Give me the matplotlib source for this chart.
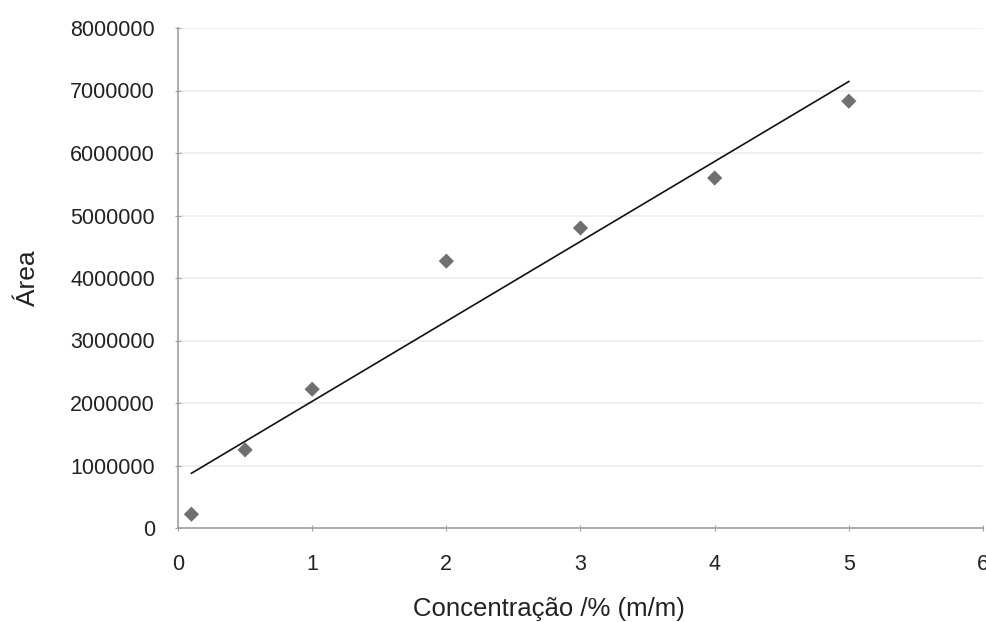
import matplotlib
matplotlib.use("Agg")
import matplotlib.pyplot as plt
import numpy as np

conc = [0.1, 0.5, 1, 2, 3, 4, 5]
area = [220000, 1250000, 2220000, 4270000, 4800000, 5600000, 6830000]
x_ticks = [0, 1, 2, 3, 4, 5, 6]
y_ticks = [0, 1000000, 2000000, 3000000, 4000000, 5000000, 6000000, 7000000, 8000000]

plt.rcParams['font.family'] = ['Liberation Sans', 'DejaVu Sans']

fig = plt.figure(figsize=(9.87, 6.22), dpi=100)
ax = fig.add_axes([178/987, 1 - 528/622, (983-178)/987, (528-28)/622])

ax.set_xlim(0, 6)
ax.set_ylim(0, 8000000)
ax.set_xticks(x_ticks)
ax.set_yticks(y_ticks)
ax.set_xticklabels([str(t) for t in x_ticks])
ax.set_yticklabels([str(t) for t in y_ticks])
ax.grid(axis='y', color='#ececec', linewidth=1.2)
ax.set_axisbelow(True)

for s in ['top', 'right']:
    ax.spines[s].set_visible(False)
for s in ['left', 'bottom']:
    ax.spines[s].set_color('#a0a0a0')
    ax.spines[s].set_linewidth(1.2)
ax.tick_params(axis='both', colors='#a0a0a0', labelcolor='#222222', labelsize=15.5, length=5, direction='inout')
ax.tick_params(axis='y', pad=14)
ax.tick_params(axis='x', pad=16)

ax.scatter(conc, area, marker='D', s=60, color='#707070', zorder=3, edgecolors='none')

slope, intercept = np.polyfit(conc, area, 1)
xs = np.array([conc[0], conc[-1]])
ax.plot(xs, slope * xs + intercept, color='#111111', linewidth=1.2, zorder=4)

ax.set_xlabel('Concentração /% (m/m)', fontsize=18.5, color='#222222')
ax.set_ylabel('Área', fontsize=19, color='#222222')
ax.xaxis.set_label_coords((549-178)/805, -(609-528)/500, transform=ax.transAxes)
ax.yaxis.set_label_coords(-(178-28)/805, 0.5, transform=ax.transAxes)
ax.xaxis.label.set_va('center')
ax.yaxis.label.set_va('center')

fig.savefig('out.png', dpi=100)
